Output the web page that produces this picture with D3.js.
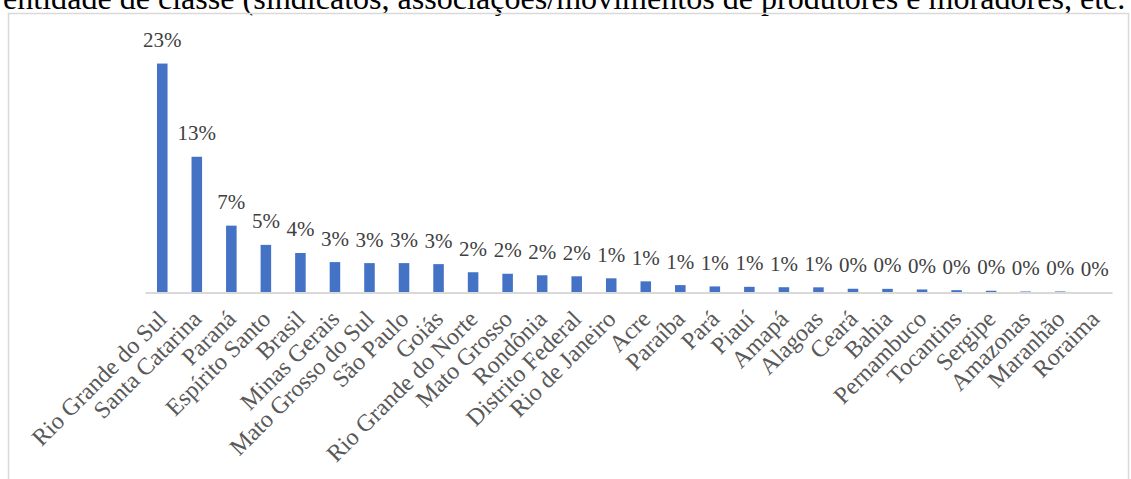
<!DOCTYPE html>
<html>
<head>
<meta charset="utf-8">
<script src="https://cdn.jsdelivr.net/npm/d3@7"></script>
<style>
  html, body { margin: 0; padding: 0; background: #fff; }
  svg { display: block; }
</style>
</head>
<body>
<svg id="chart" width="1131" height="479"></svg>
<script>
const categories = ["Rio Grande do Sul","Santa Catarina","Paraná","Espírito Santo","Brasil","Minas Gerais","Mato Grosso do Sul","São Paulo","Goiás","Rio Grande do Norte","Mato Grosso","Rondônia","Distrito Federal","Rio de Janeiro","Acre","Paraíba","Pará","Piauí","Amapá","Alagoas","Ceará","Bahia","Pernambuco","Tocantins","Sergipe","Amazonas","Maranhão","Roraima"];
const values = [22.6, 13.4, 6.6, 4.7, 3.9, 3.0, 2.9, 2.9, 2.8, 2.0, 1.85, 1.7, 1.6, 1.4, 1.1, 0.73, 0.6, 0.56, 0.52, 0.51, 0.37, 0.36, 0.3, 0.23, 0.17, 0.1, 0.1, 0.04];
const valueLabels = ["23%","13%","7%","5%","4%","3%","3%","3%","3%","2%","2%","2%","2%","1%","1%","1%","1%","1%","1%","1%","0%","0%","0%","0%","0%","0%","0%","0%"];
const headerText = "entidade de classe (sindicatos, associações/movimentos de produtores e moradores, etc.";

const svg = d3.select("#chart");
const serif = "'Liberation Serif', 'Times New Roman', serif";

// header text clipped at top
const header = svg.append("text")
  .attr("x", 3).attr("y", 9)
  .style("font-family", serif)
  .style("font-size", "26px")
  .style("fill", "#000")
  .text(headerText);
const targetW = 1123;
const w0 = header.node().getComputedTextLength();
header.style("font-size", (26 * targetW / w0) + "px");

// frame
svg.append("rect")
  .attr("x", 8.5).attr("y", 13.5)
  .attr("width", 1120).attr("height", 520)
  .attr("fill", "none")
  .attr("stroke", "#d9d9d9")
  .attr("stroke-width", 1.5);

const baseY = 292.5;
const x = d3.scaleBand().domain(categories).range([145, 1112])
  .paddingInner(0.695).paddingOuter(0.3475);
const y = d3.scaleLinear().domain([0, 25]).range([baseY, baseY - 25 * 10.13]);

// bars
svg.append("g").selectAll("rect")
  .data(categories)
  .join("rect")
  .attr("x", d => x(d))
  .attr("width", x.bandwidth())
  .attr("y", (d, i) => y(values[i]))
  .attr("height", (d, i) => baseY - y(values[i]))
  .attr("fill", "#4472C4");

// axis
const axis = svg.append("g")
  .attr("transform", `translate(0,${baseY})`)
  .call(d3.axisBottom(x).tickSize(0).tickSizeOuter(0));
axis.select(".domain").attr("stroke", "#d9d9d9").attr("stroke-width", 2);
axis.selectAll(".tick text")
  .attr("x", 0).attr("y", 0).attr("dy", 0)
  .attr("transform", "translate(6,28) rotate(-45)")
  .style("text-anchor", "end")
  .style("font-family", serif)
  .style("font-size", "24px")
  .style("fill", "#595959");

// value labels
svg.append("g").selectAll("text")
  .data(categories)
  .join("text")
  .attr("x", d => x(d) + x.bandwidth() / 2)
  .attr("y", (d, i) => y(values[i]) - 16.5)
  .attr("text-anchor", "middle")
  .style("font-family", serif)
  .style("font-size", "21px")
  .style("fill", "#404040")
  .text((d, i) => valueLabels[i]);
</script>
</body>
</html>
